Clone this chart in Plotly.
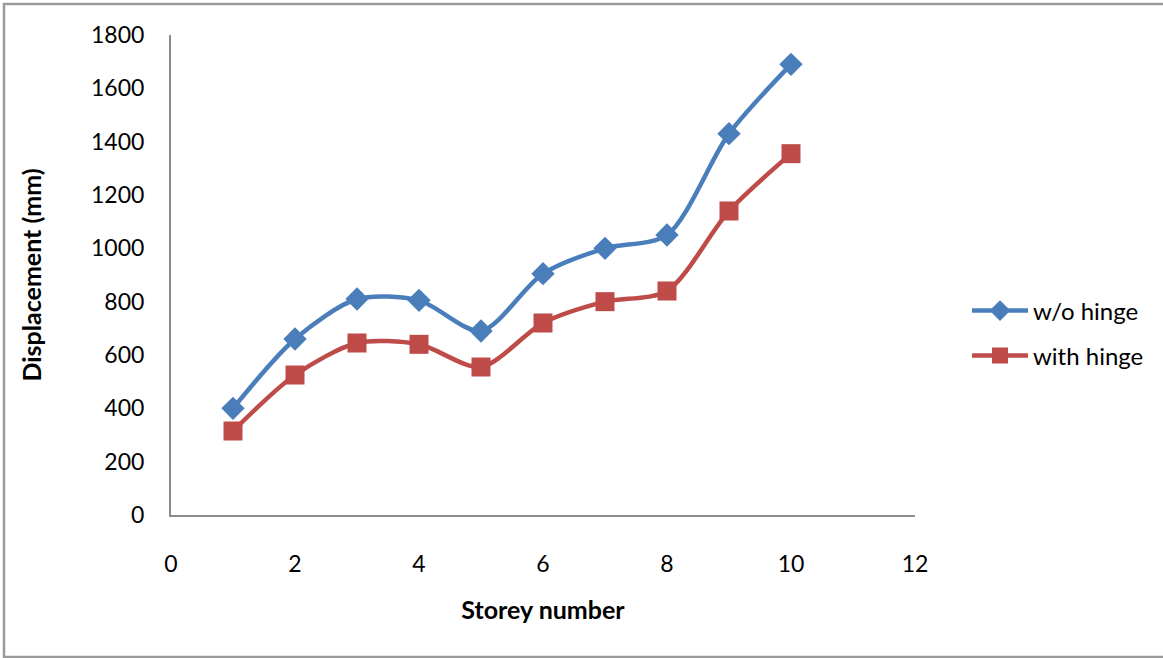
import plotly.graph_objects as go

# Storey-wise displacement data
storeys = [1, 2, 3, 4, 5, 6, 7, 8, 9, 10]
disp_without_hinge = [400, 660, 810, 805, 690, 905, 1000, 1050, 1430, 1690]
disp_with_hinge = [315, 525, 645, 640, 555, 720, 800, 840, 1140, 1355]

x_ticks = [0, 2, 4, 6, 8, 10, 12]
y_ticks = [0, 200, 400, 600, 800, 1000, 1200, 1400, 1600, 1800]

BLUE = "#4A7EBB"
RED = "#BE4B48"
FONT = "Lato, 'Open Sans', sans-serif"

# Plot-area placement in pixels
W, H = 1163, 658
L, R, T, B = 171, 248, 35, 143
PW, PH = W - L - R, H - T - B


def px_to_paper_x(px):
    return (px - L) / PW


def px_to_paper_y(py):
    return (H - B - py) / PH


fig = go.Figure()

fig.add_trace(go.Scatter(
    x=storeys, y=disp_without_hinge, name="w/o hinge",
    mode="lines+markers", line=dict(color=BLUE, width=4.5, shape="spline", smoothing=0.8),
    marker=dict(symbol="diamond", size=18, color=BLUE),
    legend="legend",
))
fig.add_trace(go.Scatter(
    x=storeys, y=disp_with_hinge, name="with hinge",
    mode="lines+markers", line=dict(color=RED, width=4.5, shape="spline", smoothing=0.8),
    marker=dict(symbol="square", size=19, color=RED),
    legend="legend2",
))

legend_common = dict(
    xanchor="left", yanchor="middle",
    font=dict(family=FONT, size=24, color="#000000"),
    bgcolor="rgba(0,0,0,0)", borderwidth=0,
    itemwidth=56, visible=True,
)

fig.update_layout(
    width=W, height=H,
    margin=dict(l=L, r=R, t=T, b=B),
    paper_bgcolor="white", plot_bgcolor="white",
    showlegend=True,
    font=dict(family=FONT, size=23, color="#000000"),
    legend=dict(x=px_to_paper_x(967), y=px_to_paper_y(311), **legend_common),
    legend2=dict(x=px_to_paper_x(967), y=px_to_paper_y(356), **legend_common),
    xaxis=dict(
        range=[0, 12], tickvals=x_ticks, ticktext=[str(v) for v in x_ticks],
        showgrid=False, zeroline=False,
        showline=True, linecolor="#8c8c8c", linewidth=2,
        ticks="", ticklabelstandoff=27,
        tickfont=dict(family=FONT, size=23),
        title=dict(text="<b>Storey number</b>", standoff=26,
                   font=dict(family=FONT, size=25)),
    ),
    yaxis=dict(
        range=[0, 1800], tickvals=y_ticks, ticktext=[str(v) for v in y_ticks],
        showgrid=False, zeroline=False,
        showline=True, linecolor="#8c8c8c", linewidth=2,
        ticks="", ticklabelstandoff=20,
        tickfont=dict(family=FONT, size=23),
        title=dict(text="<b>Displacement (mm)</b>", standoff=42,
                   font=dict(family=FONT, size=25)),
    ),
    shapes=[dict(
        type="rect", xref="paper", yref="paper",
        x0=px_to_paper_x(4), x1=px_to_paper_x(W + 10),
        y0=px_to_paper_y(657), y1=px_to_paper_y(4),
        line=dict(color="#9a9a9a", width=2.5), fillcolor="rgba(0,0,0,0)",
        layer="below",
    )],
)

fig.write_html("out.html")
